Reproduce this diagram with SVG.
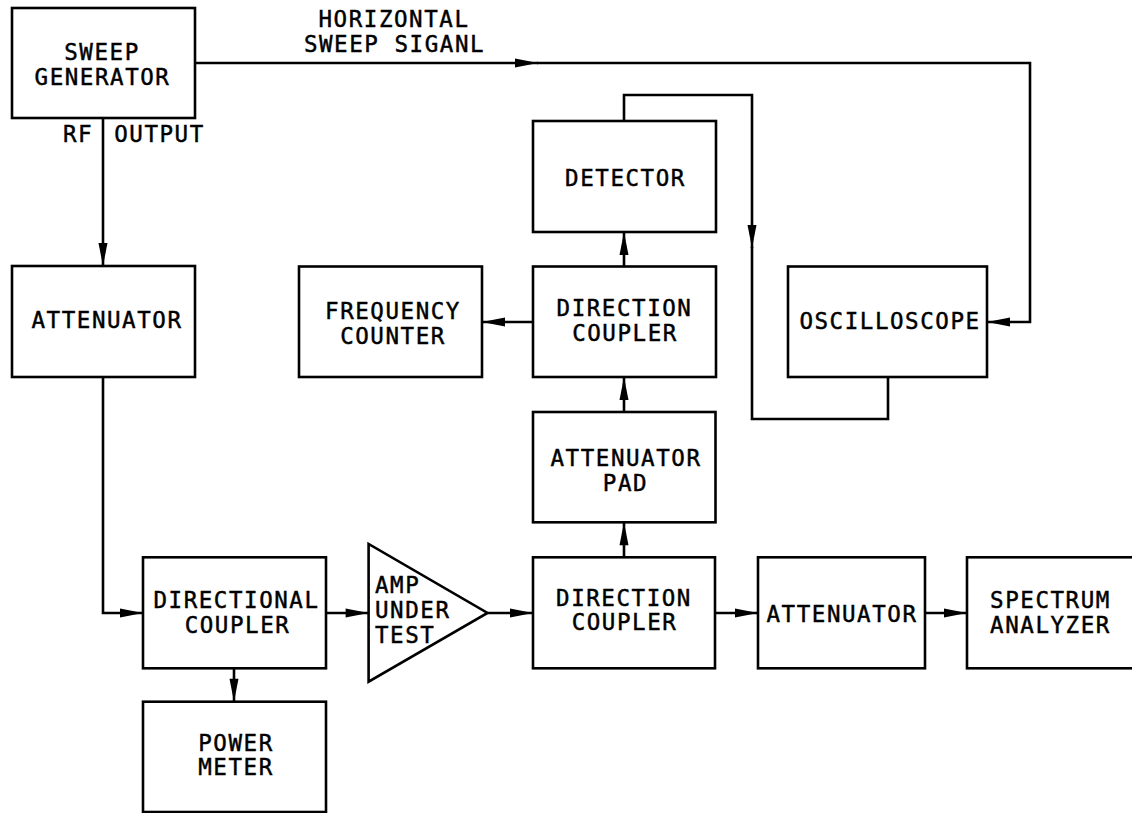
<svg xmlns="http://www.w3.org/2000/svg" width="1132" height="813" viewBox="0 0 1132 813">
<style>
.b{fill:#fff;stroke:#000;stroke-width:2.6}
.c{fill:none;stroke:#000;stroke-width:2.6}
text{font-family:"DejaVu Sans Mono","Liberation Mono",monospace;font-size:22.5px;letter-spacing:1.55px;fill:#000;stroke:#000;stroke-width:0.45;text-anchor:middle}
.s{text-anchor:start}
</style>
<defs>
<marker id="a" markerUnits="userSpaceOnUse" markerWidth="24" markerHeight="10" refX="23" refY="5" orient="auto" overflow="visible">
<path d="M0,0.5 L23,5 L0,9.5 Z" fill="#000"/>
</marker>
</defs>
<rect x="0" y="0" width="1132" height="813" fill="#fff"/>
<g id="connectors">
<path class="c" d="M195,63 H538" marker-end="url(#a)"/>
<path class="c" d="M537,63 H1030 V322 H987" marker-end="url(#a)"/>
<path class="c" d="M103,118 V266" marker-end="url(#a)"/>
<path class="c" d="M103,377 V613 H143" marker-end="url(#a)"/>
<path class="c" d="M326,613 H368.6" marker-end="url(#a)"/>
<path class="c" d="M234,668 V701.7" marker-end="url(#a)"/>
<path class="c" d="M487.5,613 H533" marker-end="url(#a)"/>
<path class="c" d="M624,557 V522.3" marker-end="url(#a)"/>
<path class="c" d="M624,412 V377" marker-end="url(#a)"/>
<path class="c" d="M624,266.5 V232" marker-end="url(#a)"/>
<path class="c" d="M533,322 H482" marker-end="url(#a)"/>
<path class="c" d="M715,613 H758" marker-end="url(#a)"/>
<path class="c" d="M925,613 H967" marker-end="url(#a)"/>
<path class="c" d="M624,121 V95 H752 V248" marker-end="url(#a)"/>
<path class="c" d="M752,247 V419 H888 V377"/>
</g>
<g id="sweep-generator">
<rect class="b" x="12" y="8" width="183" height="110"/>
<text x="102" y="60">SWEEP</text>
<text x="102.5" y="85">GENERATOR</text>
</g>
<g id="labels">
<text x="394" y="27">HORIZONTAL</text>
<text x="394.5" y="52">SWEEP SIGANL</text>
<text x="78" y="142">RF</text>
<text x="159.5" y="142">OUTPUT</text>
</g>
<g id="attenuator-1">
<rect class="b" x="12" y="266" width="183" height="111"/>
<text x="107" y="328">ATTENUATOR</text>
</g>
<g id="frequency-counter">
<rect class="b" x="299" y="266.5" width="183" height="110.5"/>
<text x="393" y="319">FREQUENCY</text>
<text x="393" y="344">COUNTER</text>
</g>
<g id="detector">
<rect class="b" x="533" y="121" width="183" height="111"/>
<text x="625.5" y="186">DETECTOR</text>
</g>
<g id="direction-coupler-upper">
<rect class="b" x="533" y="266.5" width="183" height="110.5"/>
<text x="624.5" y="316">DIRECTION</text>
<text x="625" y="341">COUPLER</text>
</g>
<g id="oscilloscope">
<rect class="b" x="788" y="266.5" width="199" height="110.5"/>
<text x="890" y="329">OSCILLOSCOPE</text>
</g>
<g id="attenuator-pad">
<rect class="b" x="533" y="412" width="182.5" height="110.3"/>
<text x="626" y="466">ATTENUATOR</text>
<text x="625.5" y="491">PAD</text>
</g>
<g id="directional-coupler">
<rect class="b" x="143" y="557.3" width="183" height="111"/>
<text x="236.5" y="608">DIRECTIONAL</text>
<text x="237.5" y="633">COUPLER</text>
</g>
<g id="power-meter">
<rect class="b" x="143" y="701.7" width="183" height="110.3"/>
<text x="236" y="751">POWER</text>
<text x="236" y="775">METER</text>
</g>
<g id="amp-under-test">
<polygon class="b" points="368.6,544 368.6,681.7 487.5,613"/>
<text class="s" x="375" y="593">AMP</text>
<text class="s" x="375" y="618">UNDER</text>
<text class="s" x="375" y="643">TEST</text>
</g>
<g id="direction-coupler-lower">
<rect class="b" x="533" y="557.3" width="182" height="111"/>
<text x="624" y="606">DIRECTION</text>
<text x="624.5" y="630">COUPLER</text>
</g>
<g id="attenuator-2">
<rect class="b" x="758" y="557.3" width="167" height="111"/>
<text x="842" y="622">ATTENUATOR</text>
</g>
<g id="spectrum-analyzer">
<rect class="b" x="967" y="557.3" width="180" height="111"/>
<text x="1050.5" y="608">SPECTRUM</text>
<text x="1050.5" y="633">ANALYZER</text>
</g>
</svg>
